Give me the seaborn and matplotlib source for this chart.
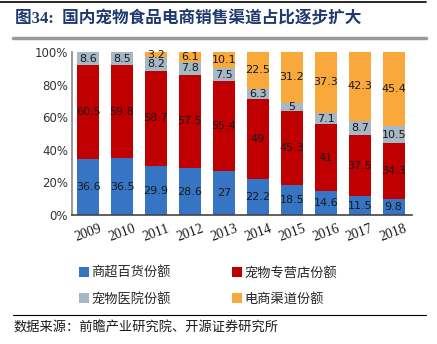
import numpy as np
import pandas as pd
import matplotlib
matplotlib.use("Agg")
import matplotlib.pyplot as plt
from matplotlib.patches import Patch
from matplotlib.lines import Line2D
import seaborn as sns

years = ["2009", "2010", "2011", "2012", "2013", "2014", "2015", "2016", "2017", "2018"]
supermarket = [36.6, 36.5, 29.9, 28.6, 27, 22.2, 18.5, 14.6, 11.5, 9.8]
pet_store = [60.5, 59.8, 58.7, 57.5, 55.4, 49, 45.3, 41, 37.5, 34.3]
pet_hospital = [8.6, 8.5, 8.2, 7.8, 7.5, 6.3, 5, 7.1, 8.7, 10.5]
ecommerce = [0, 0, 3.2, 6.1, 10.1, 22.5, 31.2, 37.3, 42.3, 45.4]
series_names = ["商超百货份额", "宠物专营店份额", "宠物医院份额", "电商渠道份额"]
colors = ["#3674C4", "#C00000", "#A5B8C5", "#F9A93B"]
title = "图34:  国内宠物食品电商销售渠道占比逐步扩大"
source = "数据来源：前瞻产业研究院、开源证券研究所"

sns.set_style("white")
plt.rcParams['font.family'] = ['DejaVu Sans', 'Noto Sans CJK SC']

df = pd.DataFrame({"year": years, "s0": supermarket, "s1": pet_store,
                   "s2": pet_hospital, "s3": ecommerce})
raw = df[["s0", "s1", "s2", "s3"]].to_numpy(dtype=float)
totals = raw.sum(axis=1)
norm = raw / totals[:, None] * 100

fig = plt.figure(figsize=(4.37, 3.44), dpi=100)
ax = fig.add_axes([0.165, 0.375, 0.777, 0.474])

bottom = np.zeros(len(years))
for i in range(4):
    d = pd.DataFrame({"year": years, "v": norm[:, i]})
    sns.barplot(data=d, x="year", y="v", color=colors[i], bottom=bottom,
                width=0.65, ax=ax, saturation=1, edgecolor="none", linewidth=0)
    for j in range(len(years)):
        if raw[j, i] > 0:
            yc = bottom[j] + norm[j, i] / 2
            lab = f"{raw[j, i]:g}"
            ax.text(j, yc, lab, ha="center", va="center", fontsize=8,
                    color="#1a1a1a")
    bottom = bottom + norm[:, i]

ax.set_xlim(-0.47, 9.53)
ax.set_ylim(0, 100)
ax.set_yticks([0, 20, 40, 60, 80, 100])
ax.set_yticklabels([f"{v}%" for v in [0, 20, 40, 60, 80, 100]], fontsize=8.5, color="#333333")
ax.set_xticks(range(len(years)))
ax.set_xticklabels(years, rotation=20, fontsize=10, family="Liberation Serif",
                   ha="center", color="#1a1a1a")
ax.tick_params(axis="both", length=0, pad=3)
ax.tick_params(axis="x", pad=5)
ax.set_xlabel("")
ax.set_ylabel("")
for s in ["top", "right"]:
    ax.spines[s].set_visible(False)
ax.spines["left"].set_color("#888888")
ax.spines["left"].set_linewidth(1.2)
ax.spines["bottom"].set_color("#444444")
ax.spines["bottom"].set_linewidth(1.2)
ax.grid(False)

handles = [Patch(facecolor=c, edgecolor="none") for c in colors]
order = [0, 2, 1, 3]
fig.legend([handles[k] for k in order], [series_names[k] for k in order],
           ncol=2, loc="upper left", bbox_to_anchor=(0.175, 0.232), frameon=False,
           fontsize=9.5, handlelength=0.75, handleheight=0.75, handletextpad=0.2,
           columnspacing=4.6, labelspacing=0.95, borderaxespad=0, borderpad=0.2)

fig.text(0.035, 0.945, title, fontsize=12, fontweight="bold", color="#1F3A70",
         family=["Liberation Serif", "Noto Sans CJK SC"], va="center", ha="left")
fig.add_artist(Line2D([0.0, 0.975], [0.993, 0.993], color="black", lw=1.2,
                      transform=fig.transFigure))
fig.add_artist(Line2D([0.03, 0.975], [0.89, 0.89], color="#999999", lw=2.5,
                      transform=fig.transFigure))
fig.add_artist(Line2D([0.03, 0.975], [0.085, 0.085], color="black", lw=0.8,
                      transform=fig.transFigure))
fig.text(0.032, 0.045, source, fontsize=9.5, color="#1a1a1a", va="center",
         ha="left", family=["Noto Sans CJK SC"])

fig.savefig("out.png", dpi=100)
